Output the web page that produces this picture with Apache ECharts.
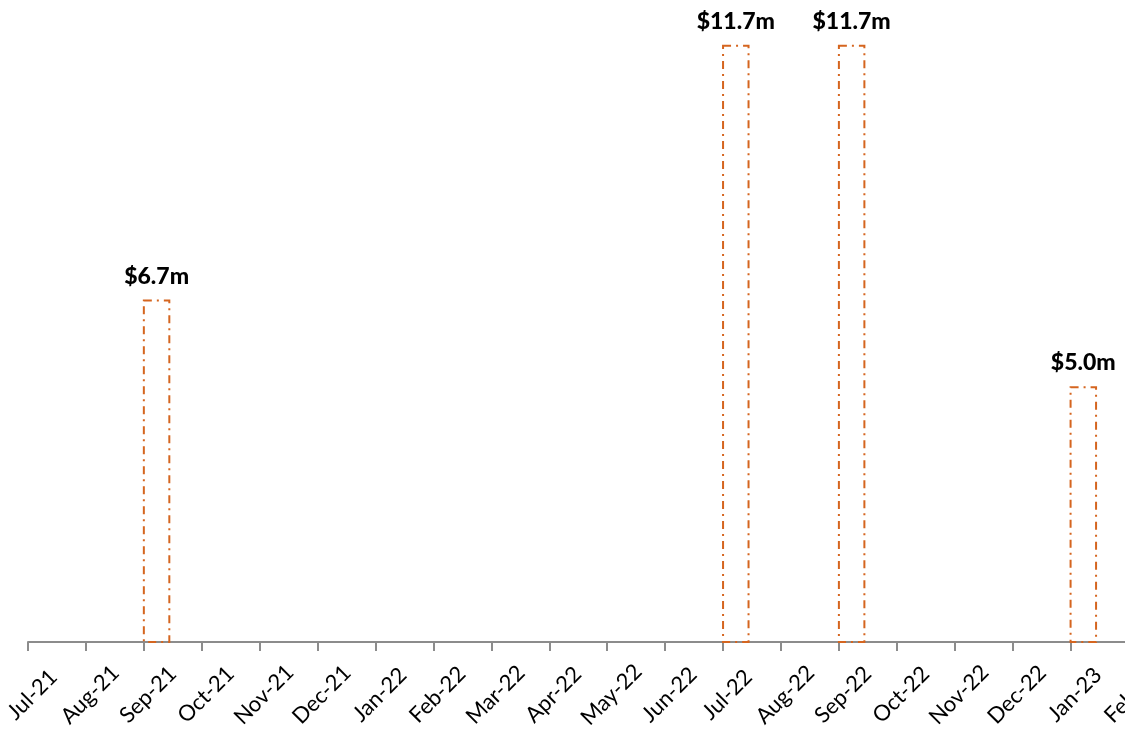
<!DOCTYPE html>
<html>
<head>
<meta charset="utf-8">
<script src="https://cdn.jsdelivr.net/npm/echarts@6/dist/echarts.min.js"></script>
<style>
  html, body { margin: 0; padding: 0; background: #fff; }
  #chart { width: 1125px; height: 734px; }
</style>
</head>
<body>
<div id="chart"></div>
<script>
// Monthly axis, Jul-21 through Feb-23
const months = ['Jul-21', 'Aug-21', 'Sep-21', 'Oct-21', 'Nov-21', 'Dec-21', 'Jan-22', 'Feb-22',
  'Mar-22', 'Apr-22', 'May-22', 'Jun-22', 'Jul-22', 'Aug-22', 'Sep-22', 'Oct-22', 'Nov-22',
  'Dec-22', 'Jan-23', 'Feb-23'];
// Amounts in $ millions (null = no entry that month)
const amounts = [null, null, 6.7, null, null, null, null, null,
  null, null, null, null, 11.7, null, 11.7, null, null,
  null, 5.0, null];

const barData = amounts
  .map((v, i) => [i, v])
  .filter(d => d[1] !== null);

const ORANGE = '#D5651F';

const chart = echarts.init(document.getElementById('chart'), null, { renderer: 'canvas' });

chart.setOption({
  animation: false,
  backgroundColor: '#ffffff',
  grid: {
    left: 28, top: 0, width: 1100.5, bottom: 92,
    containLabel: false,
    outerBoundsMode: 'none'
  },
  xAxis: {
    type: 'category',
    data: months,
    boundaryGap: false,
    axisLine: { show: true, lineStyle: { color: '#8c8c8c', width: 2 } },
    axisTick: { show: true, alignWithLabel: true, length: 9, lineStyle: { color: '#8c8c8c', width: 2 } },
    axisLabel: {
      interval: 0,
      rotate: 45,
      margin: 57,
      align: 'center',
      verticalAlign: 'middle',
      padding: [0, 0, 0, 12],
      color: '#000',
      fontSize: 22,
      fontFamily: 'Lato, "Open Sans", sans-serif',
      hideOverlap: false
    },
    splitLine: { show: false }
  },
  yAxis: {
    type: 'value',
    min: 0,
    max: 12.6,
    show: false,
    splitLine: { show: false }
  },
  series: [{
    type: 'custom',
    data: barData,
    clip: false,
    renderItem: function (params, api) {
      const idx = api.value(0);
      const val = api.value(1);
      const top = api.coord([idx, val]);
      const base = api.coord([idx, 0]);
      const w = api.size([1, 0])[0] * 0.44;
      return {
        type: 'group',
        children: [
          {
            type: 'rect',
            shape: { x: base[0], y: top[1], width: w, height: base[1] - top[1] },
            style: {
              fill: 'none',
              stroke: ORANGE,
              lineWidth: 2,
              lineDash: [8, 5, 2, 5]
            }
          },
          {
            type: 'text',
            style: {
              x: base[0] + w / 2,
              y: top[1] - 13,
              text: '$' + val.toFixed(1) + 'm',
              align: 'center',
              verticalAlign: 'bottom',
              fill: '#000',
              font: '900 23px Lato, "Open Sans", sans-serif'
            }
          }
        ]
      };
    }
  }]
});
</script>
</body>
</html>
